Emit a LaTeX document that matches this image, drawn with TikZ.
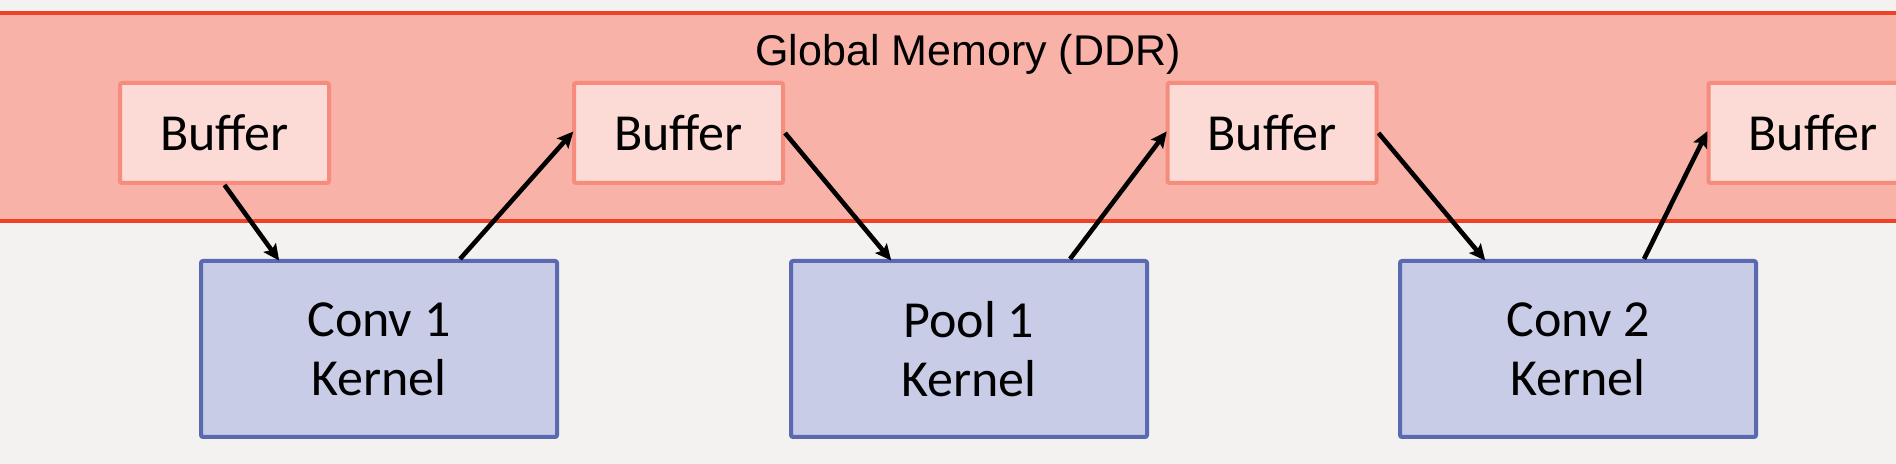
\documentclass[tikz,border=0pt]{standalone}
\usepackage{fontspec}
\setmainfont{Carlito}
\newfontfamily\titlefont{Liberation Sans}
\usetikzlibrary{arrows.meta,calc}
\definecolor{pagegray}{HTML}{F3F2F0}
\definecolor{memfill}{HTML}{F8B2A7}
\definecolor{memline}{HTML}{EE4127}
\definecolor{buffill}{HTML}{FCDAD5}
\definecolor{bufline}{HTML}{F58C7D}
\definecolor{kerfill}{HTML}{C8CCE6}
\definecolor{kerline}{HTML}{5B6AB0}
\tikzset{buffer box/.style={
    draw=bufline, fill=buffill, line width=2pt, rounded corners=1pt,
    minimum width=104.5pt, minimum height=50pt,
    font=\fontsize{26}{29.5}\selectfont},
  kernel box/.style={
    draw=kerline, fill=kerfill, line width=2pt, rounded corners=1pt,
    minimum width=178pt, minimum height=88pt, align=center,
    font=\fontsize{26}{29.5}\selectfont},
  flow/.style={-{Stealth[length=8pt,width=7.5pt,inset=1.5pt]}, line width=2.3pt, shorten >=-1pt}
}
\begin{document}
\begin{tikzpicture}[x=0.5pt, y=-0.5pt]
        \useasboundingbox (0,0) rectangle (1896,464);
        \clip (0,0) rectangle (1896,464);
        \fill[pagegray] (0,0) rectangle (1896,464);

        %global memory band
        \draw[memline, fill=memfill, line width=2pt] (-20,13) rectangle (1916,221);
        \node[font=\titlefont\fontsize{21.5}{24}\selectfont](memtitle) at (968,54){Global Memory (DDR)};

        %buffers
        \node[buffer box](buf1) at (224.5,133){Buffer};
        \node[buffer box](buf2) at (678.5,133){Buffer};
        \node[buffer box](buf3) at (1272,133){Buffer};
        \node[buffer box](buf4) at (1813,133){Buffer};

        %kernels
        \node[kernel box](conv1) at (379,349){Conv 1\\Kernel};
        \node[kernel box](pool1) at (969,349){Pool 1\\Kernel};
        \node[kernel box](conv2) at (1578,349){Conv 2\\Kernel};

        %data flow
        \draw[flow] (buf1.south) -- ([xshift=-50.5pt]conv1.north);
        \draw[flow] ([xshift=40.5pt]conv1.north) -- (buf2.west);
        \draw[flow] (buf2.east) -- ([xshift=-39.5pt]pool1.north);
        \draw[flow] ([xshift=50.5pt]pool1.north) -- (buf3.west);
        \draw[flow] (buf3.east) -- ([xshift=-47pt]conv2.north);
        \draw[flow] ([xshift=33pt]conv2.north) -- (buf4.west);
\end{tikzpicture}
\end{document}
